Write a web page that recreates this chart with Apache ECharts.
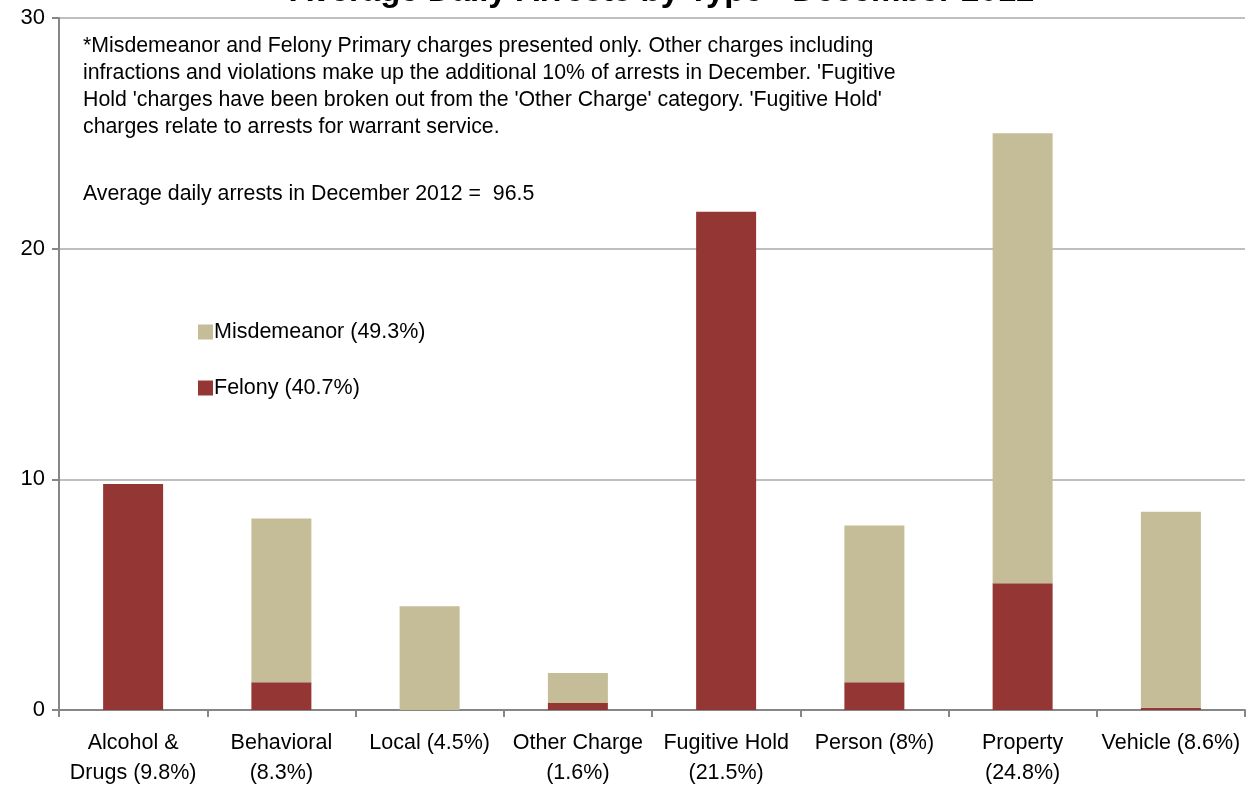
<!DOCTYPE html>
<html><head><meta charset="utf-8">
<script src="https://cdn.jsdelivr.net/npm/echarts@6/dist/echarts.min.js"></script>
<style>html,body{margin:0;padding:0;background:#fff}#c{width:1251px;height:788px}</style>
</head><body><div id="c"></div>
<script>
const categories = ['Alcohol &\nDrugs (9.8%)','Behavioral\n(8.3%)','Local (4.5%)','Other Charge\n(1.6%)','Fugitive Hold\n(21.5%)','Person (8%)','Property\n(24.8%)','Vehicle (8.6%)'];
const felony = [9.8, 1.2, 0, 0.3, 21.6, 1.2, 5.5, 0.1];
const misdemeanor = [0, 7.1, 4.5, 1.3, 0, 6.8, 19.5, 8.5];
const yTicks = [0, 10, 20, 30];
const titleText = 'Average Daily Arrests by Type - December 2012';
const noteLines = [
  "*Misdemeanor and Felony Primary charges presented only. Other charges including",
  "infractions and violations make up the additional 10% of arrests in December. 'Fugitive",
  "Hold 'charges have been broken out from the 'Other Charge' category. 'Fugitive Hold'",
  "charges relate to arrests for warrant service."
];
const avgLine = "Average daily arrests in December 2012 =  96.5";
const FONT = '"Liberation Sans",Arial,sans-serif';
const chart = echarts.init(document.getElementById('c'));
chart.setOption({
  animation: false,
  textStyle: {fontFamily: FONT},
  grid: {left: 59, right: 6, top: 18, bottom: 78, containLabel: false},
  legend: {
    orient: 'vertical', left: 193, top: 316, itemGap: 34,
    itemWidth: 15, itemHeight: 15, icon: 'rect',
    data: ['Misdemeanor (49.3%)', 'Felony (40.7%)'],
    textStyle: {fontFamily: FONT, fontSize: 21.5, color: '#000', padding: [0,0,0,-4]}
  },
  graphic: [{
    type: 'text', x: 662, y: 8.5, z: 10,
    style: {text: titleText, font: 'bold 33px ' + FONT, fill: '#000', textAlign: 'center', textVerticalAlign: 'bottom'}
  }, {
    type: 'text', left: 83, top: 33,
    style: {text: noteLines.join('\n'), font: '21.3px ' + FONT, fill: '#000', lineHeight: 27}
  }, {
    type: 'text', left: 83, top: 184,
    style: {text: avgLine, font: '21.3px ' + FONT, fill: '#000'}
  }],
  xAxis: {
    type: 'category', data: categories,
    axisLine: {lineStyle: {color: '#868686', width: 2}},
    axisTick: {show: true, length: 7, lineStyle: {color: '#868686', width: 2}},
    axisLabel: {fontFamily: FONT, fontSize: 21.5, color: '#000', margin: 18, lineHeight: 30, interval: 0}
  },
  yAxis: {
    type: 'value', min: yTicks[0], max: yTicks[yTicks.length-1], interval: 10,
    axisLine: {show: true, lineStyle: {color: '#868686', width: 2}},
    axisTick: {show: true, length: 7, lineStyle: {color: '#868686', width: 2}},
    axisLabel: {fontFamily: FONT, fontSize: 22, color: '#000', margin: 14},
    splitLine: {lineStyle: {color: '#bfbfbf', width: 2}}
  },
  series: [
    {name: 'Felony (40.7%)', type: 'bar', stack: 't', data: felony, barWidth: 60,
     itemStyle: {color: '#943634'}},
    {name: 'Misdemeanor (49.3%)', type: 'bar', stack: 't', data: misdemeanor, barWidth: 60,
     itemStyle: {color: '#c4bd97'}}
  ]
});
</script></body></html>
